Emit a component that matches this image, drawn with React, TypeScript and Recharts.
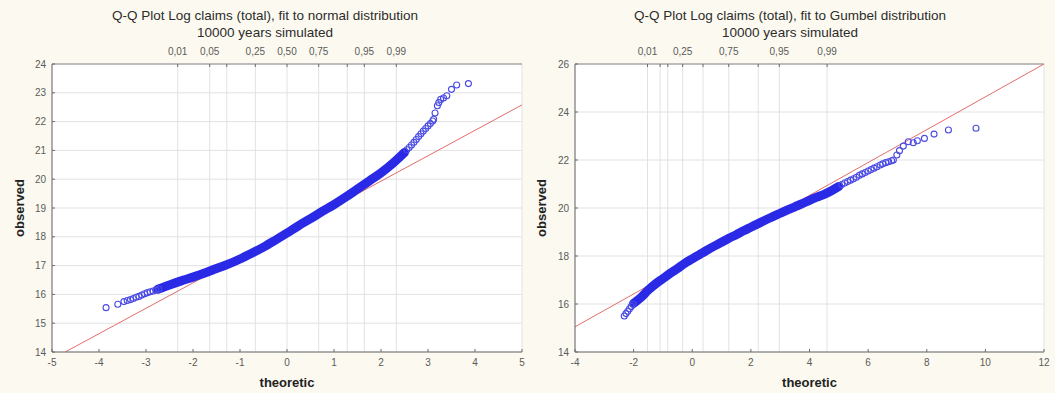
import React from 'react';
import { ComposedChart, Line, Scatter, XAxis, YAxis, CartesianGrid } from 'recharts';

type Pair = [number, number];

// ---- left panel: fit to normal distribution ----
const normalXTicks = [-5, -4, -3, -2, -1, 0, 1, 2, 3, 4, 5];
const normalYTicks = [14, 15, 16, 17, 18, 19, 20, 21, 22, 23, 24];
const normalProbPos = [-2.326, -1.645, -1.282, -0.674, 0, 0.674, 1.282, 1.645, 2.326];
const normalProbLabels = ['0,01', '0,05', '', '0,25', '0,50', '0,75', '', '0,95', '0,99'];
const normalFit: Pair[] = [[-4.72, 14], [5, 22.58]];
const normalBand: Pair[] = [
  [-2.75, 16.18], [-2.5, 16.33], [-2.25, 16.47], [-2.0, 16.6], [-1.75, 16.74], [-1.5, 16.9],
  [-1.25, 17.05], [-1.0, 17.23], [-0.75, 17.43], [-0.5, 17.64], [-0.25, 17.88], [0, 18.13],
  [0.25, 18.39], [0.5, 18.63], [0.75, 18.88], [1.0, 19.12], [1.25, 19.38], [1.5, 19.66],
  [1.75, 19.94], [2.0, 20.22], [2.25, 20.55], [2.5, 20.93],
];
const normalLowTail: Pair[] = [
  [-3.85, 15.54], [-3.6, 15.66], [-3.47, 15.75], [-3.4, 15.79], [-3.33, 15.82], [-3.27, 15.86],
  [-3.21, 15.9], [-3.15, 15.93], [-3.09, 15.98], [-3.03, 16.02], [-2.97, 16.06], [-2.91, 16.09],
  [-2.85, 16.12], [-2.79, 16.15], [-2.73, 16.19],
];
const normalHighTail: Pair[] = [
  [2.55, 21.02], [2.6, 21.1], [2.65, 21.19], [2.7, 21.28], [2.75, 21.38], [2.8, 21.48],
  [2.85, 21.58], [2.9, 21.67], [2.95, 21.76], [3.0, 21.85], [3.05, 21.93], [3.1, 22.02],
  [3.12, 22.08], [3.15, 22.3], [3.2, 22.55], [3.23, 22.66], [3.27, 22.77], [3.33, 22.82],
  [3.4, 22.9], [3.5, 23.12], [3.61, 23.27], [3.86, 23.32],
];

// ---- right panel: fit to Gumbel distribution ----
const gumbelXTicks = [-4, -2, 0, 2, 4, 6, 8, 10, 12];
const gumbelYTicks = [14, 16, 18, 20, 22, 24, 26];
const gumbelProbPos = [-1.527, -1.097, -0.834, -0.327, 0.367, 1.246, 2.25, 2.97, 4.6];
const gumbelProbLabels = ['0,01', '', '', '0,25', '', '0,75', '', '0,95', '0,99'];
const gumbelFit: Pair[] = [[-4, 15.05], [12, 26]];
const gumbelBand: Pair[] = [
  [-2.0, 16.03], [-1.75, 16.27], [-1.5, 16.58], [-1.25, 16.84], [-1.0, 17.06], [-0.75, 17.28],
  [-0.5, 17.48], [-0.25, 17.7], [0, 17.88], [0.25, 18.06], [0.5, 18.24], [0.75, 18.41],
  [1.0, 18.57], [1.25, 18.74], [1.5, 18.89], [1.75, 19.05], [2.0, 19.2], [2.25, 19.35],
  [2.5, 19.5], [2.75, 19.64], [3.0, 19.78], [3.25, 19.92], [3.5, 20.05], [3.75, 20.18],
  [4.0, 20.32], [4.25, 20.45], [4.5, 20.57], [4.75, 20.72], [5.0, 20.9],
];
const gumbelLowTail: Pair[] = [
  [-2.32, 15.5], [-2.26, 15.6], [-2.2, 15.7], [-2.14, 15.8], [-2.08, 15.9], [-2.02, 15.99],
];
const gumbelHighTail: Pair[] = [
  [5.1, 20.98], [5.2, 21.04], [5.3, 21.1], [5.4, 21.16], [5.5, 21.22], [5.6, 21.28],
  [5.7, 21.36], [5.8, 21.42], [5.9, 21.48], [6.0, 21.54], [6.1, 21.6], [6.2, 21.66],
  [6.3, 21.72], [6.41, 21.79], [6.5, 21.84], [6.6, 21.89], [6.7, 21.93], [6.8, 21.97],
  [6.86, 22.0], [6.98, 22.21], [7.07, 22.39], [7.2, 22.58], [7.37, 22.76], [7.54, 22.72],
  [7.68, 22.8], [7.92, 22.9], [8.25, 23.08], [8.74, 23.25], [9.68, 23.32],
];

const toPts = (pairs: Pair[]) => pairs.map(([x, y]) => ({ x, y }));

const FONT = '"Liberation Sans", Arial, sans-serif';
const tickStyle = { fontSize: 10, fill: '#5a5a5a', fontFamily: FONT };

const Circle = (props: any) => (
  <circle cx={props.cx} cy={props.cy} r={3} fill="none" stroke="#4a4ae4" strokeWidth={1.1} />
);

interface PanelProps {
  left: number;
  title: string;
  marginLeft: number;
  marginRight: number;
  obsLeft: number;
  xDomain: [number, number];
  xTicks: number[];
  yDomain: [number, number];
  yTicks: number[];
  probPos: number[];
  probLabels: string[];
  fit: Pair[];
  band: Pair[];
  tails: Pair[];
}

const Panel: React.FC<PanelProps> = (p) => {
  const plotLeft = p.marginLeft + 40;
  const plotRight = 530 - p.marginRight;
  const plotMid = (plotLeft + plotRight) / 2;
  return (
    <div style={{ position: 'absolute', left: p.left, top: 0, width: 530, height: 393 }}>
      <div
        style={{
          position: 'absolute', top: 7, left: 0, width: 530, textAlign: 'center',
          fontFamily: FONT, fontSize: 13.5, lineHeight: '17px', color: '#2c2c2c',
        }}
      >
        {p.title}
        <br />
        10000 years simulated
      </div>
      <ComposedChart width={530} height={393} margin={{ top: 44, right: p.marginRight, bottom: 16, left: p.marginLeft }}>
        <CartesianGrid xAxisId="top" stroke="#e2e2e2" fill="#ffffff" />
        <XAxis
          type="number" dataKey="x" domain={p.xDomain} ticks={p.xTicks} interval={0}
          allowDataOverflow height={25} tickSize={-3} tickMargin={10} tick={tickStyle}
          axisLine={{ stroke: '#6a6a6a' }} tickLine={{ stroke: '#6a6a6a' }}
        />
        <XAxis
          xAxisId="top" orientation="top" type="number" dataKey="x" domain={p.xDomain}
          ticks={p.probPos} interval={0} allowDataOverflow height={20} tickSize={-3} tickMargin={12}
          tick={tickStyle} tickFormatter={(_v: number, i: number) => p.probLabels[i]}
          axisLine={{ stroke: '#8a8a8a' }} tickLine={{ stroke: '#6a6a6a' }}
        />
        <YAxis
          type="number" domain={p.yDomain} ticks={p.yTicks} interval={0} allowDataOverflow
          width={40} tickSize={-3} tickMargin={9} tick={tickStyle}
          axisLine={{ stroke: '#6a6a6a' }} tickLine={{ stroke: '#6a6a6a' }}
        />
        <YAxis
          yAxisId="right" orientation="right" type="number" domain={p.yDomain} ticks={p.yTicks}
          interval={0} width={0} tickSize={-3} tickFormatter={() => ''}
          axisLine={{ stroke: '#8a8a8a' }} tickLine={{ stroke: '#6a6a6a' }}
        />
        <Line
          data={toPts(p.fit)} dataKey="y" type="linear" stroke="#e46c6c" strokeWidth={1}
          dot={false} isAnimationActive={false}
        />
        <Line
          data={toPts(p.band)} dataKey="y" type="monotone" stroke="#2a2ae6" strokeWidth={9}
          strokeLinecap="round" dot={false} isAnimationActive={false}
        />
        <Scatter data={toPts(p.tails)} dataKey="y" shape={Circle} isAnimationActive={false} />
      </ComposedChart>
      <div
        style={{
          position: 'absolute', top: 375, left: plotMid - 50, width: 100, textAlign: 'center',
          fontFamily: FONT, fontSize: 13, fontWeight: 'bold', color: '#222',
        }}
      >
        theoretic
      </div>
      <div
        style={{
          position: 'absolute', top: 199, left: p.obsLeft - 40, width: 80, textAlign: 'center',
          fontFamily: FONT, fontSize: 13, fontWeight: 'bold', color: '#222',
          transform: 'rotate(-90deg)', lineHeight: '18px',
        }}
      >
        observed
      </div>
    </div>
  );
};

export default function App() {
  return (
    <div style={{ position: 'fixed', left: 0, top: 0, width: 1055, height: 393, background: '#fcfaf0' }}>
      <Panel
        left={0}
        title="Q-Q Plot Log claims (total), fit to normal distribution"
        marginLeft={12}
        marginRight={8}
        obsLeft={20}
        xDomain={[-5, 5]}
        xTicks={normalXTicks}
        yDomain={[14, 24]}
        yTicks={normalYTicks}
        probPos={normalProbPos}
        probLabels={normalProbLabels}
        fit={normalFit}
        band={normalBand}
        tails={[...normalLowTail, ...normalHighTail]}
      />
      <Panel
        left={525}
        title="Q-Q Plot Log claims (total), fit to Gumbel distribution"
        marginLeft={10}
        marginRight={11}
        obsLeft={17}
        xDomain={[-4, 12]}
        xTicks={gumbelXTicks}
        yDomain={[14, 26]}
        yTicks={gumbelYTicks}
        probPos={gumbelProbPos}
        probLabels={gumbelProbLabels}
        fit={gumbelFit}
        band={gumbelBand}
        tails={[...gumbelLowTail, ...gumbelHighTail]}
      />
    </div>
  );
}
